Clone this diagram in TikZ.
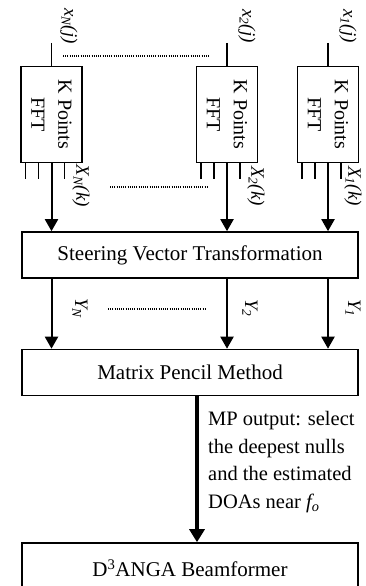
\documentclass[tikz,border=0pt]{standalone}
\usepackage{fontspec}
\setmainfont{Liberation Serif}
\usetikzlibrary{arrows.meta}
\begin{document}
\begin{tikzpicture}[x=1pt,y=-1pt,
  box/.style={draw, line width=1.6pt, inner sep=0pt, font=\fontsize{21}{24}\selectfont},
  fftbox/.style={box, rotate=-90, minimum width=96pt, minimum height=61pt, align=center, font=\fontsize{20}{27}\selectfont},
  widebox/.style={box, minimum width=336pt, minimum height=46pt},
  arr/.style={line width=2pt, -{Triangle[width=13pt,length=12pt]}},
  bigarr/.style={line width=3.5pt, -{Triangle[width=15pt,length=13pt]}},
  stub/.style={line width=1.6pt},
  lbl/.style={rotate=-90, font=\fontsize{19}{22}\selectfont\itshape, inner sep=0pt},
  dotline/.style={line width=1.2pt, dash pattern=on 1pt off 1.2pt},
  txt/.style={font=\fontsize{20.5}{27.5}\selectfont, inner sep=0pt, align=left}
]
\clip (0,0) rectangle (365,586);
% FFT boxes
\node[fftbox] (fftN) at (51.5,114.5) {K Points\\FFT};
\node[fftbox] (fft2) at (227,114.5) {K Points\\FFT};
\node[fftbox] (fft1) at (328,114.5) {K Points\\FFT};
% wide boxes
\node[widebox] (svt) at (190,255) {Steering Vector Transformation};
\node[widebox] (mpm) at (190,372.5) {Matrix Pencil Method};
\node[widebox, minimum height=50pt] (d3) at (190,568) {D\textsuperscript{3}ANGA Beamformer};
% inputs
\coordinate (inN) at (51.5,43);
\coordinate (in2) at (227,43);
\coordinate (in1) at (328,43);
\draw[stub] (inN) -- (fftN.west);
\draw[stub] (in2) -- (fft2.west);
\draw[stub] (in1) -- (fft1.west);
\node[lbl] (lxN) at (69,26) {x\textsubscript{N}(j)};
\node[lbl] (lx2) at (247,26) {x\textsubscript{2}(j)};
\node[lbl] (lx1) at (348,26) {x\textsubscript{1}(j)};
\draw[dotline] (63,56) -- (210,56);
% stubs and arrows below FFT
\foreach \b in {fftN,fft2,fft1}{
  \draw[stub] ([xshift=-26pt]\b.east) -- ++(0,16);
  \draw[stub] ([xshift=-13pt]\b.east) -- ++(0,16);
  \draw[stub] ([xshift=13pt]\b.east) -- ++(0,16);
  \draw[arr] (\b.east) -- (\b.east |- svt.north);
}
\node[lbl] (lXN) at (81,186) {X\textsubscript{N}(k)};
\node[lbl] (lX2) at (256,186) {X\textsubscript{2}(k)};
\node[lbl] (lX1) at (353,186) {X\textsubscript{1}(k)};
\draw[dotline] (110,187) -- (207,187);
% Y arrows
\draw[arr] (svt.south -| fftN.east) -- (mpm.north -| fftN.east);
\draw[arr] (svt.south -| fft2.east) -- (mpm.north -| fft2.east);
\draw[arr] (svt.south -| fft1.east) -- (mpm.north -| fft1.east);
\node[lbl] (lYN) at (80,308) {Y\textsubscript{N}};
\node[lbl] (lY2) at (250,308) {Y\textsubscript{2}};
\node[lbl] (lY1) at (353,308) {Y\textsubscript{1}};
\draw[dotline] (108,309) -- (207,309);
% MP arrow
\draw[bigarr] ([xshift=7pt]mpm.south) -- ([xshift=7pt]d3.north);
\node[txt, anchor=base west] (mptxt) at (208,508) {MP output: select\\the deepest nulls\\and the estimated\\DOAs near \textit{f\textsubscript{o}}};
\end{tikzpicture}
\end{document}
